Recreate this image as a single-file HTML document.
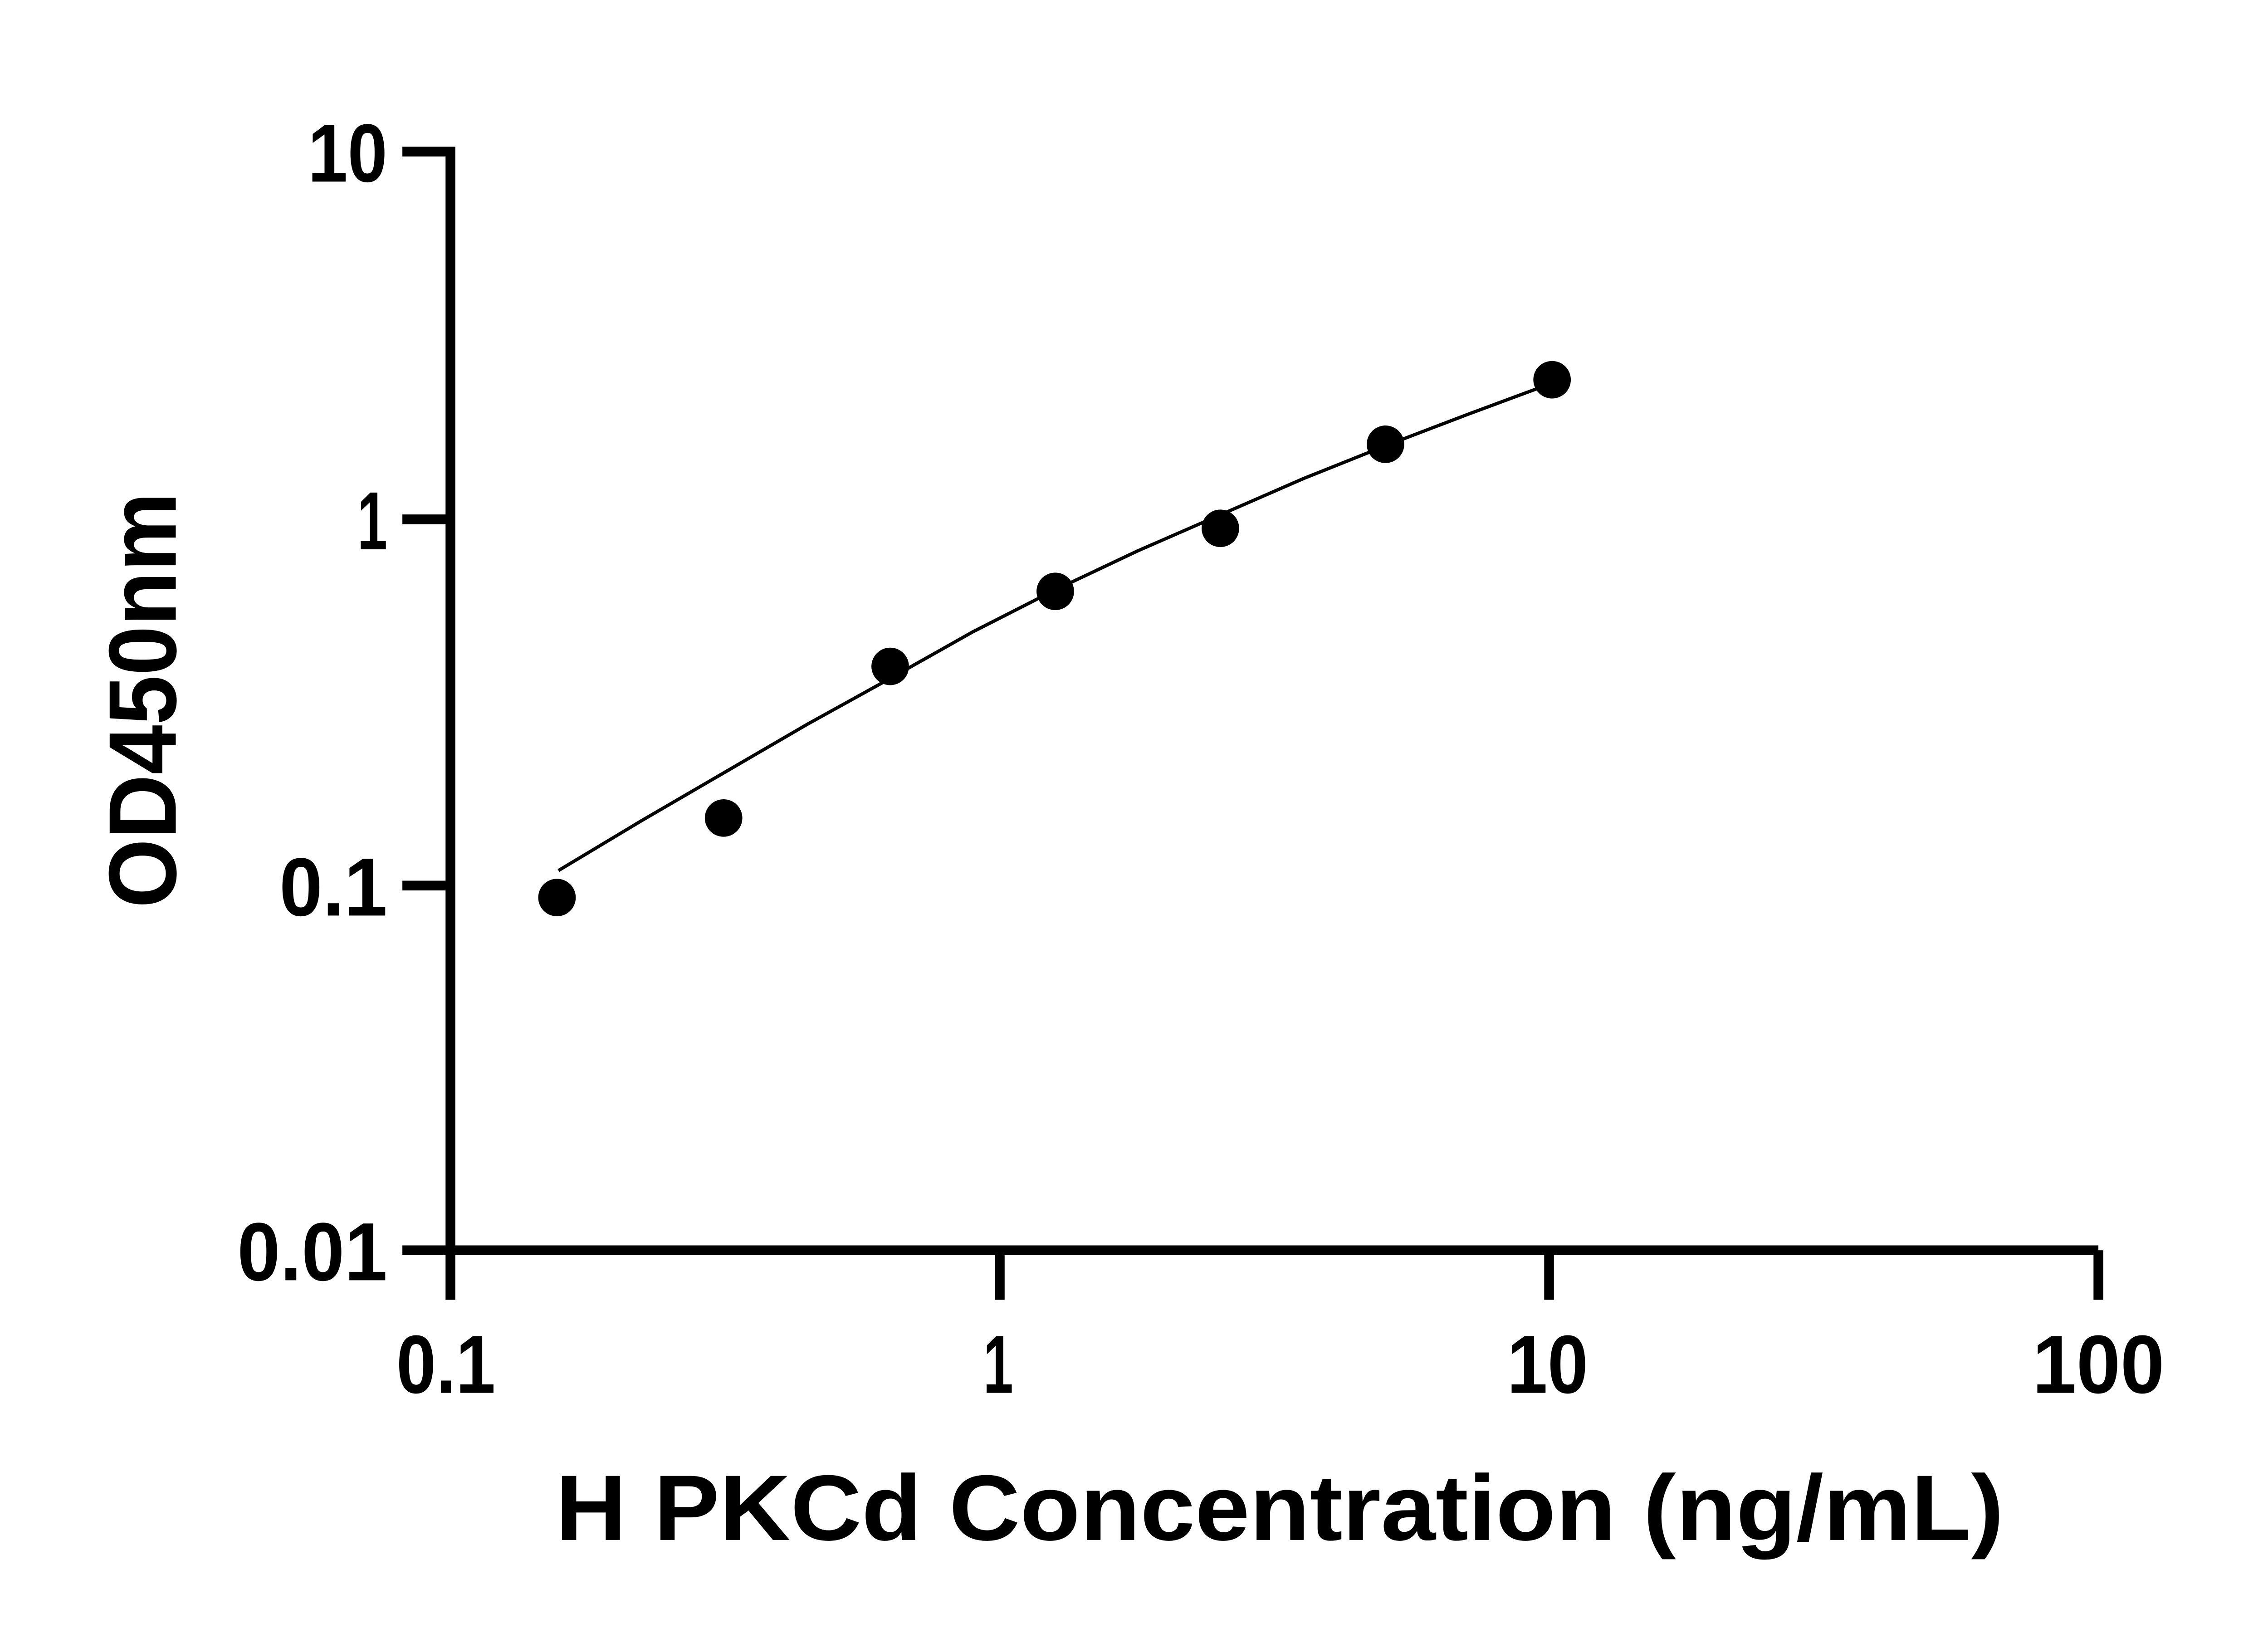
<!DOCTYPE html>
<html><head><meta charset="utf-8"><style>
html,body{margin:0;padding:0;background:#fff;}
svg{display:block;}
text{font-family:"Liberation Sans",Arial,sans-serif;font-weight:bold;fill:#000;}
</style></head><body>
<svg width="5136" height="3600" viewBox="0 0 1552 1088" xmlns="http://www.w3.org/2000/svg">
<rect width="1552" height="1088" fill="#fff"/>
<g stroke="#000" stroke-width="6.5" fill="none" stroke-linecap="butt">
<polyline points="268,101 300,101 300,833 1398,833"/>
<line x1="268" y1="346" x2="300" y2="346"/>
<line x1="268" y1="590" x2="300" y2="590"/>
<line x1="268" y1="833" x2="300" y2="833"/>
<line x1="300" y1="833" x2="300" y2="866"/>
<line x1="666" y1="833" x2="666" y2="866"/>
<line x1="1032" y1="833" x2="1032" y2="866"/>
<line x1="1398" y1="833" x2="1398" y2="866"/>
</g>
<g font-size="55">
<text x="205" y="121" textLength="53" lengthAdjust="spacingAndGlyphs">10</text>
<text x="238" y="366" textLength="20" lengthAdjust="spacingAndGlyphs">1</text>
<text x="186" y="610" textLength="72" lengthAdjust="spacingAndGlyphs">0.1</text>
<text x="158" y="853" textLength="100" lengthAdjust="spacingAndGlyphs">0.01</text>
<text x="264" y="928" textLength="66" lengthAdjust="spacingAndGlyphs">0.1</text>
<text x="655" y="928" textLength="20" lengthAdjust="spacingAndGlyphs">1</text>
<text x="1004" y="928" textLength="54" lengthAdjust="spacingAndGlyphs">10</text>
<text x="1354" y="928" textLength="88" lengthAdjust="spacingAndGlyphs">100</text>
</g>
<text x="370" y="1026" font-size="62" textLength="965" lengthAdjust="spacingAndGlyphs">H PKCd Concentration (ng/mL)</text>
<text transform="translate(117,605) rotate(-90)" font-size="64" textLength="277" lengthAdjust="spacingAndGlyphs">OD450nm</text>
<polyline points="372,580 427,547 482,515 537,483 593,452 648,421 703,393 758,367 813,343 868,319 923,297 978,276 1032,256" fill="none" stroke="#000" stroke-width="2.2"/>
<g fill="#000">
<circle cx="371" cy="598" r="12.5"/>
<circle cx="482" cy="545" r="12.5"/>
<circle cx="593" cy="444" r="12.5"/>
<circle cx="703" cy="394" r="12.5"/>
<circle cx="813" cy="352" r="12.5"/>
<circle cx="923" cy="296" r="12.5"/>
<circle cx="1034" cy="253" r="12.5"/>
</g>
</svg>
</body></html>
